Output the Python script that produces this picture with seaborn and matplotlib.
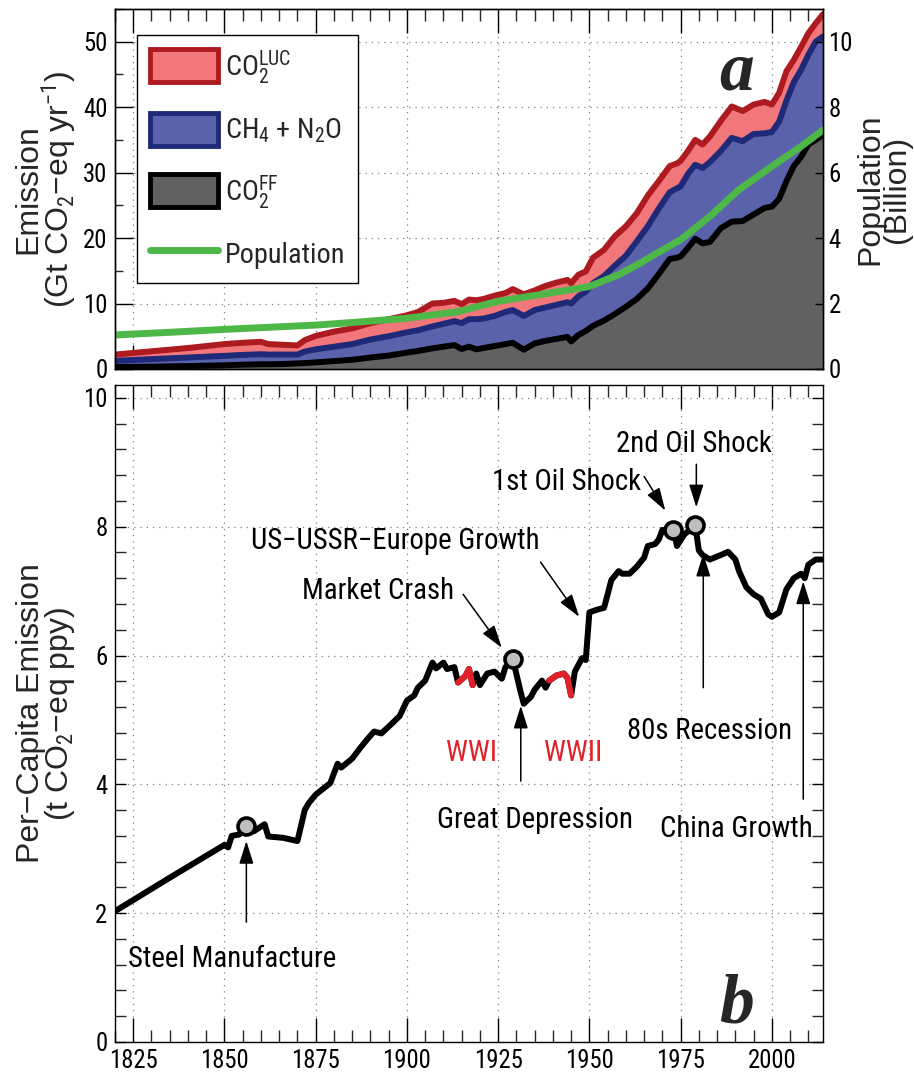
import numpy as np
import pandas as pd
import matplotlib
matplotlib.use("Agg")
import matplotlib.pyplot as plt
import seaborn as sns
from matplotlib import font_manager
from matplotlib.patches import Patch
from matplotlib.lines import Line2D
from matplotlib.ticker import MultipleLocator

# ---------------- data ----------------
years_a = [1820, 1830, 1840, 1850, 1855, 1860, 1862, 1866, 1870, 1872, 1875, 1880,
           1885, 1890, 1895, 1900, 1903, 1907, 1910, 1913, 1915, 1917, 1919, 1921,
           1924, 1927, 1929, 1932, 1935, 1938, 1941, 1944, 1945, 1947, 1949, 1951,
           1954, 1957, 1960, 1963, 1966, 1969, 1972, 1974, 1975, 1977, 1979, 1981,
           1983, 1986, 1989, 1992, 1995, 1998, 2000, 2002, 2004, 2006, 2008, 2010,
           2012, 2014]
co2_ff = [0.3, 0.35, 0.45, 0.56, 0.65, 0.72, 0.72, 0.75, 0.85, 0.9, 1.0, 1.2,
          1.4, 1.75, 2.05, 2.5, 2.75, 3.15, 3.4, 3.65, 3.05, 3.4, 3.0, 3.2,
          3.5, 3.8, 4.0, 2.95, 3.9, 4.3, 4.6, 4.9, 4.2, 5.2, 5.8, 6.6,
          7.4, 8.4, 9.5, 10.7, 12.3, 14.5, 16.8, 17.0, 17.2, 18.5, 19.9, 19.2,
          19.4, 21.5, 22.5, 22.6, 23.6, 24.6, 24.8, 26.0, 28.7, 31.0, 32.4, 34.3,
          35.0, 35.8]
ch4_n2o = [0.95, 1.15, 1.3, 1.44, 1.5, 1.53, 1.48, 1.45, 1.35, 1.75, 2.0, 2.2,
           2.4, 2.75, 2.95, 3.1, 3.15, 3.35, 3.5, 3.65, 3.95, 4.2, 4.6, 4.5,
           4.6, 4.9, 5.0, 5.15, 5.1, 5.1, 5.2, 5.3, 5.8, 5.9, 6.0, 6.5,
           6.8, 7.4, 7.8, 8.8, 9.5, 10.0, 10.2, 10.6, 10.7, 11.3, 11.3, 11.5,
           12.2, 11.8, 12.8, 12.2, 12.3, 11.4, 11.4, 11.8, 12.3, 12.8, 13.3, 13.7,
           15.0, 15.0]
co2_luc = [0.95, 1.2, 1.45, 1.8, 1.85, 1.9, 1.6, 1.5, 1.4, 1.75, 2.05, 2.3,
           2.4, 2.5, 2.6, 2.6, 2.8, 3.5, 3.2, 3.1, 2.9, 3.0, 2.9, 3.0,
           3.1, 2.9, 3.2, 3.3, 3.0, 3.3, 3.4, 3.4, 3.1, 3.3, 3.1, 3.9,
           4.0, 4.5, 4.5, 4.3, 4.7, 4.2, 4.0, 3.8, 3.9, 3.5, 3.8, 3.6,
           3.9, 4.6, 4.8, 4.6, 4.5, 4.8, 4.2, 4.4, 4.5, 3.4, 3.5, 3.3,
           2.8, 3.4]

pop_years = [1820, 1835, 1850, 1875, 1885, 1900, 1914, 1925, 1937, 1950, 1958,
             1964, 1967, 1975, 1983, 1991, 2000, 2008, 2014]
population = [1.04, 1.12, 1.21, 1.34, 1.42, 1.55, 1.75, 2.07, 2.28, 2.52, 2.88,
              3.24, 3.44, 3.95, 4.66, 5.48, 6.19, 6.80, 7.30]

pc_years = [1820, 1835, 1850, 1851, 1852, 1854, 1856, 1858, 1861, 1862, 1866, 1870,
            1872, 1873, 1875, 1879, 1881, 1882, 1885, 1887, 1889, 1891, 1893, 1896,
            1898, 1900, 1902, 1903, 1905, 1907, 1908, 1910, 1911, 1913, 1914, 1916,
            1917, 1918, 1919, 1920, 1922, 1924, 1926, 1927, 1929, 1931, 1932, 1934,
            1935, 1937, 1938, 1939, 1941, 1943, 1944, 1945, 1946, 1948, 1949, 1950,
            1952, 1954, 1955, 1956, 1958, 1959, 1961, 1963, 1965, 1966, 1968, 1969,
            1970, 1971, 1973, 1974, 1976, 1979, 1980, 1981, 1983, 1986, 1988, 1990,
            1991, 1993, 1995, 1997, 1999, 2000, 2002, 2004, 2006, 2008, 2009, 2010,
            2012, 2014]
per_capita = [2.03, 2.55, 3.06, 3.02, 3.2, 3.22, 3.36, 3.27, 3.38, 3.19, 3.17, 3.12,
              3.6, 3.7, 3.84, 4.02, 4.32, 4.26, 4.4, 4.55, 4.69, 4.82, 4.79, 4.95,
              5.06, 5.3, 5.38, 5.5, 5.61, 5.89, 5.8, 5.89, 5.79, 5.82, 5.58, 5.68,
              5.79, 5.54, 5.72, 5.54, 5.72, 5.75, 5.64, 5.82, 5.95, 5.47, 5.25, 5.36,
              5.47, 5.61, 5.5, 5.61, 5.69, 5.72, 5.65, 5.38, 5.75, 5.96, 5.93, 6.67,
              6.71, 6.74, 6.95, 7.17, 7.31, 7.27, 7.27, 7.38, 7.52, 7.7, 7.73, 7.8,
              7.95, 7.91, 7.95, 7.7, 7.88, 8.02, 7.63, 7.56, 7.49, 7.56, 7.61, 7.49,
              7.31, 7.06, 6.95, 6.88, 6.64, 6.6, 6.67, 7.03, 7.2, 7.27, 7.2, 7.41,
              7.49, 7.49]
war_periods = [(1914, 1918), (1939, 1945)]
event_years = [1856, 1929, 1973, 1979]

legend_labels = [r"CO$_2^{\mathrm{LUC}}$", r"CH$_4$ + N$_2$O", r"CO$_2^{\mathrm{FF}}$", "Population"]
x_ticks = [1825, 1850, 1875, 1900, 1925, 1950, 1975, 2000]

# ---------------- fonts ----------------
sns.set_theme(style="ticks")


def find_condensed():
    prefs = ["Liberation Sans Narrow", "Arial Narrow", "Roboto Condensed",
             "DejaVu Sans Condensed", "DejaVu Sans", "Noto Sans", "Open Sans",
             "Roboto", "Lato", "Inter"]
    found = {}
    for f in font_manager.fontManager.ttflist:
        nm = f.name
        cond = (str(f.stretch) in ("condensed", "semi-condensed", "extra-condensed")
                or "Narrow" in nm or "Condensed" in nm)
        if not cond or f.style != "normal":
            continue
        w = f.weight
        if isinstance(w, str):
            w = {"normal": 400, "regular": 400, "book": 400, "roman": 400}.get(w.lower(), 700)
        if w != 400:
            continue
        if any(k in nm for k in ("CJK", "Mono", "Serif")):
            continue
        found.setdefault(nm, str(f.stretch))
    for p in prefs:
        if p in found:
            return p, found[p]
    if found:
        nm = sorted(found)[0]
        return nm, found[nm]
    return None, "normal"


CNAME, CSTRETCH = find_condensed()
SANS = "Liberation Sans"
NARROW = CNAME if CNAME else SANS
plt.rcParams["font.family"] = [NARROW, "DejaVu Sans"]
if CNAME and CSTRETCH in ("condensed", "semi-condensed", "extra-condensed"):
    plt.rcParams["font.stretch"] = CSTRETCH
    mpat = f"{NARROW}:stretch={CSTRETCH}"
else:
    mpat = NARROW
plt.rcParams["mathtext.fontset"] = "custom"
plt.rcParams["mathtext.rm"] = mpat
plt.rcParams["mathtext.it"] = mpat + ":style=italic"
plt.rcParams["mathtext.bf"] = mpat + ":weight=bold"

PINK, DARKRED = "#F2777A", "#AD1A20"
BLUE, NAVY = "#5A62AC", "#1E2A78"
GREY = "#616161"
GREEN = "#4DB848"
WARRED = "#E2202A"
GRIDKW = dict(color="#808080", ls=(0, (1, 4)), lw=0.9)

fig = plt.figure(figsize=(9.14, 10.82), dpi=100)
renderer = fig.canvas.get_renderer()


def fit_size(text, target_px, base=22.0, **kw):
    t = fig.text(0, 0, text, fontsize=base, **kw)
    w = t.get_window_extent(renderer=renderer).width
    t.remove()
    return base * target_px / w


ANN_FS = min(24.0, fit_size("Steel Manufacture", 208))
TICK_FS = min(22.0, fit_size("2000", 49))
LEG_FS = min(24.0, fit_size("Population", 120))
PX = 100 / 72.0

ax_a = fig.add_axes([0.1258, 0.659, 0.7746, 0.3327])
ax_b = fig.add_axes([0.1258, 0.037, 0.7746, 0.6072])

# ---------------- panel a ----------------
df_a = pd.DataFrame({"year": years_a, "ff": co2_ff, "ghg": ch4_n2o, "luc": co2_luc})
df_a["lvl_ff"] = df_a["ff"]
df_a["lvl_ghg"] = df_a["lvl_ff"] + df_a["ghg"]
df_a["lvl_luc"] = df_a["lvl_ghg"] + df_a["luc"]

ax_a.fill_between(df_a["year"], 0, df_a["lvl_ff"], color=GREY, lw=0, zorder=1)
ax_a.fill_between(df_a["year"], df_a["lvl_ff"], df_a["lvl_ghg"], color=BLUE, lw=0, zorder=1)
ax_a.fill_between(df_a["year"], df_a["lvl_ghg"], df_a["lvl_luc"], color=PINK, lw=0, zorder=1)
lkw = dict(estimator=None, sort=False, legend=False, solid_joinstyle="round", solid_capstyle="round")
sns.lineplot(data=df_a, x="year", y="lvl_luc", color=DARKRED, lw=4.3, ax=ax_a, zorder=2, **lkw)
sns.lineplot(data=df_a, x="year", y="lvl_ghg", color=NAVY, lw=4.3, ax=ax_a, zorder=2, **lkw)
sns.lineplot(data=df_a, x="year", y="lvl_ff", color="black", lw=4.3, ax=ax_a, zorder=2, **lkw)

ax_a.set_xlim(1820, 2014)
ax_a.set_ylim(0, 55)
ax_a.yaxis.set_major_locator(MultipleLocator(10))
ax_a.yaxis.set_minor_locator(MultipleLocator(5))
ax_a.set_xlabel("")
ax_a.set_ylabel("")

ax2 = ax_a.twinx()
df_p = pd.DataFrame({"year": pop_years, "pop": population})
sns.lineplot(data=df_p, x="year", y="pop", color=GREEN, lw=5, ax=ax2, **lkw)
ax2.set_ylim(0, 11)
ax2.set_xlim(1820, 2014)
ax2.yaxis.set_major_locator(MultipleLocator(2))
ax2.set_ylabel("")
ax2.set_xlabel("")
ax2.tick_params(axis="y", which="major", direction="in", length=6, width=1,
                labelsize=TICK_FS, pad=4, colors="black")
ax2.tick_params(axis="y", which="minor", right=False)

handles = [Patch(facecolor=PINK, edgecolor=DARKRED, lw=3.5, label=legend_labels[0]),
           Patch(facecolor=BLUE, edgecolor=NAVY, lw=3.5, label=legend_labels[1]),
           Patch(facecolor=GREY, edgecolor="black", lw=3.5, label=legend_labels[2]),
           Line2D([], [], color=GREEN, lw=5, label=legend_labels[3])]
fs_px = LEG_FS * PX
leg = ax2.legend(handles=handles, loc="upper left", bbox_to_anchor=(0.031, 0.928),
                 borderaxespad=0, fontsize=LEG_FS, handlelength=68 / fs_px,
                 handleheight=40 / fs_px, handletextpad=7 / fs_px,
                 labelspacing=27 / fs_px, borderpad=0.45,
                 frameon=True, fancybox=False, framealpha=1, edgecolor="black")
leg.get_frame().set_linewidth(1.0)
leg.set_zorder(10)

ax_a.text(1990.3, 42.7, "a", fontfamily="Liberation Serif", fontstyle="italic",
          fontweight="bold", fontsize=50, ha="center", va="baseline", zorder=6)

# ---------------- panel b ----------------
df_b = pd.DataFrame({"year": pc_years, "pc": per_capita})
sns.lineplot(data=df_b, x="year", y="pc", color="black", lw=4.3, ax=ax_b, zorder=3, **lkw)
for (y0, y1) in war_periods:
    seg = df_b[(df_b["year"] >= y0) & (df_b["year"] <= y1)]
    sns.lineplot(data=seg, x="year", y="pc", color=WARRED, lw=4.3, ax=ax_b, zorder=4, **lkw)
ev = df_b[df_b["year"].isin(event_years)]
sns.scatterplot(data=ev, x="year", y="pc", s=150, color="#BEBEBE", edgecolor="black",
                linewidth=2.6, ax=ax_b, zorder=6, legend=False)

ax_b.set_xlim(1820, 2014)
ax_b.set_ylim(0, 10.2)
ax_b.yaxis.set_major_locator(MultipleLocator(2))
ax_b.yaxis.set_minor_locator(MultipleLocator(0.4))
ax_b.set_xlabel("")
ax_b.set_ylabel("")

akw = dict(arrowstyle="-|>,head_length=0.7,head_width=0.22", color="black", lw=1.1,
           shrinkA=0, shrinkB=0, mutation_scale=20)


def note(text, tx, ty, ha, tail, tip, color="black"):
    ax_b.text(tx, ty, text, ha=ha, va="center", fontsize=ANN_FS, color=color, zorder=7)
    if tail is not None:
        ax_b.annotate("", xy=tip, xytext=tail, arrowprops=akw, zorder=7)


note("Steel Manufacture", 1823.5, 1.29, "left", (1856, 1.86), (1856, 3.12))
note("Market Crash", 1913.0, 7.0, "right", (1915.4, 6.95), (1926.0, 6.12))
note("US\u2212USSR\u2212Europe Growth", 1936.4, 7.77, "right", (1936.6, 7.45), (1947.2, 6.6))
note("1st Oil Shock", 1964.3, 8.69, "right", (1965.0, 8.78), (1970.8, 8.25))
note("2nd Oil Shock", 1978.7, 9.28, "center", (1979.3, 8.97), (1979.3, 8.30))
note("80s Recession", 1983.0, 4.83, "center", (1981.2, 5.5), (1981.2, 7.58))
note("China Growth", 1990.3, 3.31, "center", (2008.6, 3.77), (2008.6, 7.15))
note("Great Depression", 1935.2, 3.45, "center", (1931.2, 4.05), (1931.2, 5.22))
note("WWI", 1917.7, 4.48, "center", None, None, color=WARRED)
note("WWII", 1945.5, 4.48, "center", None, None, color=WARRED)

ax_b.text(1990.3, 0.30, "b", fontfamily="Liberation Serif", fontstyle="italic",
          fontweight="bold", fontsize=50, ha="center", va="baseline", zorder=6)

# ---------------- shared axis styling ----------------
for ax in (ax_a, ax_b):
    ax.set_xticks(x_ticks)
    ax.xaxis.set_minor_locator(MultipleLocator(5))
    ax.grid(True, which="major", **GRIDKW)
    ax.set_axisbelow(True)
    ax.tick_params(axis="x", which="major", direction="in", length=17, width=1,
                   top=True, bottom=True, labelsize=TICK_FS, pad=5, colors="black")
    ax.tick_params(axis="x", which="minor", direction="in", length=8.5, width=1,
                   top=True, bottom=True)
    ax.tick_params(axis="y", which="major", direction="in", length=13, width=1,
                   left=True, labelsize=TICK_FS, pad=5.5, colors="black")
    ax.tick_params(axis="y", which="minor", direction="in", length=6, width=1, left=True)
    for sp in ax.spines.values():
        sp.set_color("black")
        sp.set_linewidth(1.0)
for sp in ax2.spines.values():
    sp.set_color("black")
    sp.set_linewidth(1.0)

ax_a.tick_params(axis="x", labelbottom=False)
ax_a.tick_params(axis="y", which="both", right=False)
ax_b.tick_params(axis="y", which="major", right=True, length=8)
ax_b.tick_params(axis="y", which="minor", right=True, length=8)

# axis titles (two-line, rotated)
LBL = dict(fontsize=23, fontfamily=[SANS, "DejaVu Sans"], fontstretch="normal",
           rotation=90, ha="center", va="center", multialignment="center",
           linespacing=0.86)
ax_a.text(-0.097, 0.5, "Emission\n(Gt CO$_2$\u2212eq yr$^{-1}$)",
          transform=ax_a.transAxes, **LBL)
ax_a.text(1.086, 0.5, "Population\n(Billion)", transform=ax_a.transAxes,
          clip_on=False, **LBL)
ax_b.text(-0.097, 0.5, "Per\u2212Capita Emission\n(t CO$_2$\u2212eq ppy)",
          transform=ax_b.transAxes, **LBL)

fig.savefig("out.png", dpi=100)
